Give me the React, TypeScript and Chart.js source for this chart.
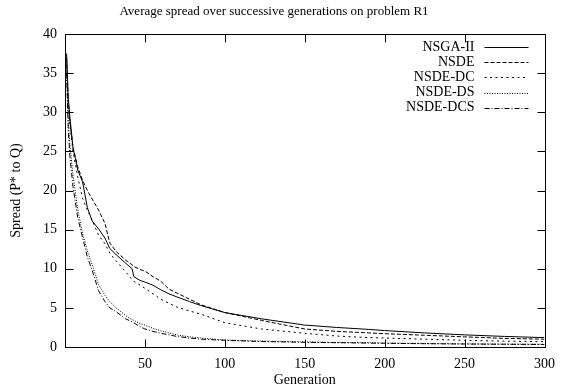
import React, { useEffect, useRef } from "react";
import { Chart, registerables } from "chart.js";

Chart.register(...registerables);

const generations = [1, 2, 3, 5, 8, 11, 14, 17, 21, 25, 28, 32, 38, 42, 43, 47, 50, 55, 60, 65, 70, 78, 85, 100, 123, 150, 170, 190, 200, 225, 250, 275, 300];

const nsga2 = [37.5, 32, 29.5, 25.5, 22.6, 21.1, 17.8, 16.1, 15.1, 13.9, 12.6, 11.8, 10.7, 10.0, 9.0, 8.5, 8.3, 7.9, 7.3, 6.8, 6.4, 5.8, 5.3, 4.4, 3.6, 2.8, 2.5, 2.25, 2.1, 1.8, 1.55, 1.35, 1.2];
const nsde = [37, 31.5, 29, 25.5, 23, 21.3, 20, 18.9, 17.5, 15.8, 13.3, 12.2, 11.1, 10.5, 10.3, 9.9, 9.7, 9.0, 8.4, 7.4, 6.9, 6.1, 5.4, 4.4, 3.4, 2.3, 2.0, 1.8, 1.7, 1.5, 1.3, 1.1, 1.0];
const nsdeDC = [36.5, 31, 28.5, 25, 21.7, 19, 17.5, 16.2, 14.3, 13.2, 12.0, 11.0, 9.6, 8.6, 8.4, 7.9, 7.5, 6.8, 6.1, 5.6, 5.1, 4.6, 4.2, 3.1, 2.3, 1.75, 1.4, 1.2, 1.15, 1.0, 0.85, 0.75, 0.68];
const nsdeDS = [36, 29, 26, 22, 17.5, 14.5, 12.3, 10.5, 8.0, 6.6, 5.8, 5.0, 4.0, 3.5, 3.4, 3.0, 2.8, 2.4, 2.05, 1.8, 1.55, 1.3, 1.15, 0.9, 0.75, 0.65, 0.58, 0.55, 0.5, 0.45, 0.4, 0.37, 0.35];
const nsdeDCS = [35, 28, 24.5, 20.5, 16.5, 14, 11.5, 9.8, 7.2, 5.8, 5.0, 4.5, 3.6, 3.2, 3.1, 2.6, 2.3, 2.0, 1.75, 1.55, 1.35, 1.15, 1.0, 0.85, 0.7, 0.6, 0.55, 0.5, 0.48, 0.42, 0.38, 0.35, 0.32];

const seriesNames = ["NSGA-II", "NSDE", "NSDE-DC", "NSDE-DS", "NSDE-DCS"];
const seriesValues = [nsga2, nsde, nsdeDC, nsdeDS, nsdeDCS];
const seriesDashes: number[][] = [[], [4, 2], [2, 3.5], [1, 1.5], [5, 2, 1, 2]];

const X_MIN = 0;
const X_MAX = 300;
const Y_MIN = 0;
const Y_MAX = 40;
const xTicks = [50, 100, 150, 200, 250, 300];
const yTicks = [0, 5, 10, 15, 20, 25, 30, 35, 40];

const titleText = "Average spread over successive generations on problem R1";
const xTitle = "Generation";
const yTitle = "Spread (P* to Q)";

const FONT = "'Liberation Serif', 'Times New Roman', serif";

const framePlugin = {
  id: "gnuplotFrame",
  afterDraw(chart: any) {
    const ctx = chart.ctx;
    const a = chart.chartArea;
    const L = Math.round(a.left) + 0.5;
    const R = Math.round(a.right) + 0.5;
    const T = Math.round(a.top) + 0.5;
    const B = Math.round(a.bottom) + 0.5;
    ctx.save();
    ctx.strokeStyle = "#000000";
    ctx.lineWidth = 1;
    ctx.setLineDash([]);
    ctx.strokeRect(L, T, R - L, B - T);
    const len = 8;
    for (const t of xTicks) {
      if (t >= X_MAX) continue;
      const x = Math.round(a.left + ((t - X_MIN) / (X_MAX - X_MIN)) * (a.right - a.left)) + 0.5;
      ctx.beginPath();
      ctx.moveTo(x, B);
      ctx.lineTo(x, B - len);
      ctx.stroke();
      ctx.beginPath();
      ctx.moveTo(x, T);
      ctx.lineTo(x, T + len);
      ctx.stroke();
    }
    for (const t of yTicks) {
      if (t <= Y_MIN || t >= Y_MAX) continue;
      const y = Math.round(a.bottom - ((t - Y_MIN) / (Y_MAX - Y_MIN)) * (a.bottom - a.top)) + 0.5;
      ctx.beginPath();
      ctx.moveTo(L, y);
      ctx.lineTo(L + len, y);
      ctx.stroke();
      ctx.beginPath();
      ctx.moveTo(R, y);
      ctx.lineTo(R - len, y);
      ctx.stroke();
    }

    // legend
    ctx.font = `14px ${FONT}`;
    ctx.fillStyle = "#000";
    ctx.textAlign = "right";
    ctx.textBaseline = "middle";
    const textRight = a.right - 70;
    const lineStart = a.right - 60;
    const lineEnd = a.right - 16;
    seriesNames.forEach((name, i) => {
      const y = a.top + 13 + i * 15.2;
      ctx.fillText(name, textRight, y);
      ctx.setLineDash(seriesDashes[i]);
      ctx.beginPath();
      ctx.moveTo(lineStart, Math.round(y) + 0.5);
      ctx.lineTo(lineEnd, Math.round(y) + 0.5);
      ctx.stroke();
    });
    ctx.restore();
  },
};

export default function App() {
  const ref = useRef<HTMLCanvasElement | null>(null);
  useEffect(() => {
    if (!ref.current) return;
    const datasets = seriesNames.map((name, i) => ({
      label: name,
      data: generations.map((g, j) => ({ x: g, y: seriesValues[i][j] })),
      borderColor: "#000",
      borderWidth: 1,
      borderDash: seriesDashes[i],
      pointRadius: 0,
      fill: false,
      tension: 0,
    }));
    const chart = new Chart(ref.current, {
      type: "line",
      data: { datasets },
      plugins: [framePlugin],
      options: {
        animation: false,
        responsive: false,
        layout: { padding: { left: 0, right: 16, top: 0, bottom: 0 } },
        plugins: {
          legend: { display: false },
          tooltip: { enabled: false },
          title: {
            display: true,
            text: titleText,
            color: "#000",
            font: { family: FONT, size: 13, weight: "normal" },
            padding: { top: 4, bottom: 14.4 },
          },
        },
        scales: {
          x: {
            type: "linear",
            min: X_MIN,
            max: X_MAX,
            afterFit: (s: any) => { s.height = 45; },
            afterBuildTicks: (s: any) => { s.ticks = xTicks.map((v) => ({ value: v })); },
            grid: { display: false, drawTicks: false },
            border: { display: false },
            ticks: { color: "#000", font: { family: FONT, size: 14 }, padding: 9, maxRotation: 0, autoSkip: false },
            title: { display: true, text: xTitle, color: "#000", font: { family: FONT, size: 14 }, padding: { top: 0, bottom: 3 } },
          },
          y: {
            type: "linear",
            min: Y_MIN,
            max: Y_MAX,
            afterFit: (s: any) => { s.width = 65; },
            afterBuildTicks: (s: any) => { s.ticks = yTicks.map((v) => ({ value: v })); },
            grid: { display: false, drawTicks: false },
            border: { display: false },
            ticks: { color: "#000", font: { family: FONT, size: 14 }, padding: 8, autoSkip: false },
            title: { display: true, text: yTitle, color: "#000", font: { family: FONT, size: 14 }, padding: { top: 8, bottom: 0 } },
          },
        },
      },
    });
    return () => chart.destroy();
  }, []);
  return (
    <div style={{ position: "fixed", left: 0, top: 0, width: 564, height: 392, background: "#fff" }}>
      <canvas ref={ref} width={564} height={392} style={{ width: 564, height: 392 }} />
    </div>
  );
}
